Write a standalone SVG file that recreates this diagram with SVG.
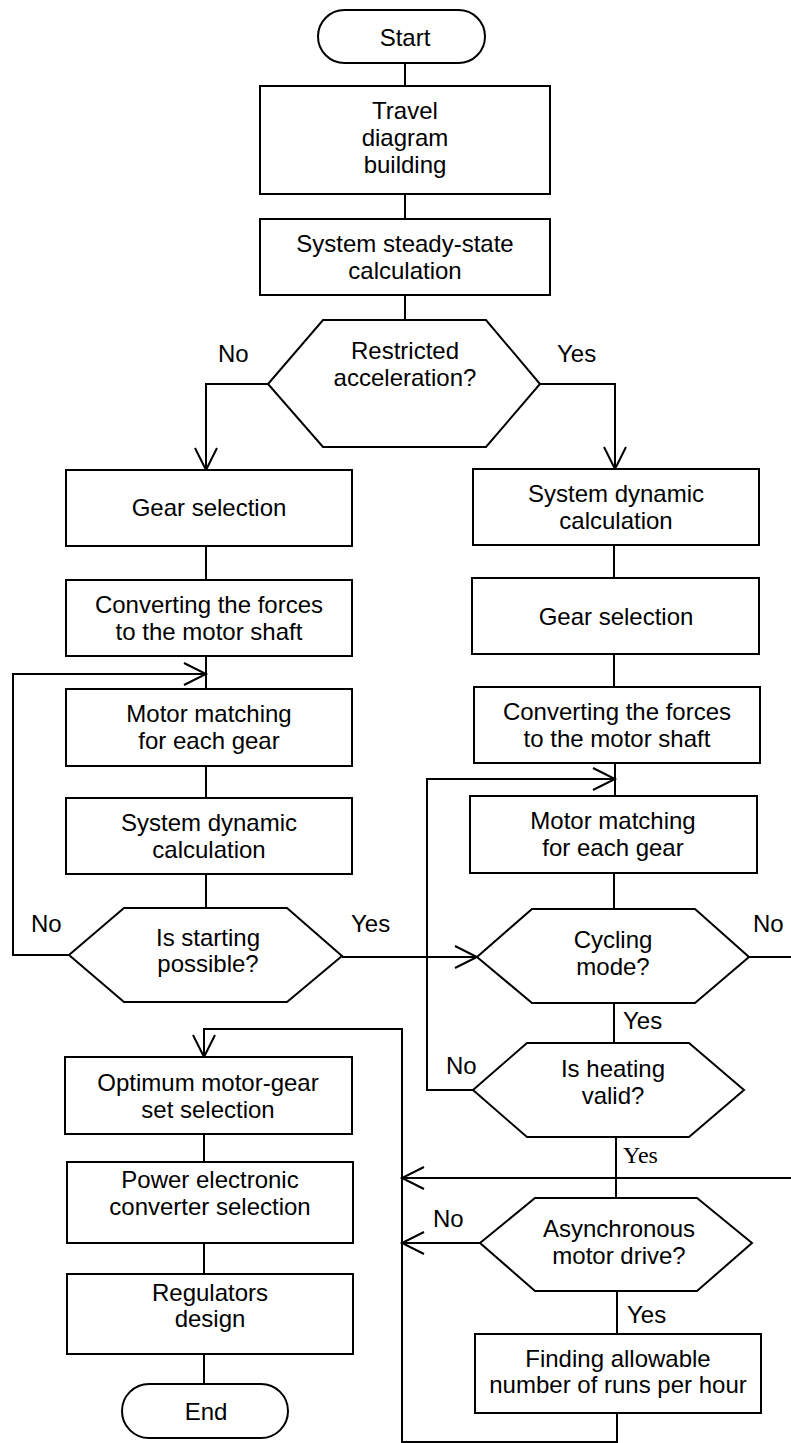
<svg xmlns="http://www.w3.org/2000/svg" width="791" height="1443" viewBox="0 0 791 1443">
<style>
.s{fill:#fff;stroke:#000;stroke-width:2}
.t{font-family:"Liberation Sans",Arial,sans-serif;font-size:24px;fill:#000;text-anchor:middle}
.l{font-family:"Liberation Sans",Arial,sans-serif;font-size:24px;fill:#000}
.ls{font-family:"Liberation Serif","Times New Roman",serif;font-size:24px;fill:#000}
.c{fill:none;stroke:#000;stroke-width:2}
</style>
<defs>
<marker id="arr" markerUnits="userSpaceOnUse" markerWidth="30" markerHeight="30" viewBox="0 0 30 30" refX="25" refY="15" orient="auto">
<path d="M3,4 L25,15 L3,26" fill="none" stroke="#000" stroke-width="2"/>
</marker>
</defs>
<rect width="791" height="1443" fill="#fff"/>
<g id="connectors">
<path class="c" d="M405,63 V86"/>
<path class="c" d="M405,194 V219"/>
<path class="c" d="M405,295 V320"/>
<path class="c" d="M268,384 H206 V470" marker-end="url(#arr)"/>
<path class="c" d="M540,384 H615 V469" marker-end="url(#arr)"/>
<path class="c" d="M206,546 V580"/>
<path class="c" d="M206,656 V689"/>
<path class="c" d="M206,766 V798"/>
<path class="c" d="M206,874 V908"/>
<path class="c" d="M69,955 H13 V674 H206" marker-end="url(#arr)"/>
<path class="c" d="M342,957 H477" marker-end="url(#arr)"/>
<path class="c" d="M614,545 V578"/>
<path class="c" d="M614,654 V687"/>
<path class="c" d="M615,763 V796"/>
<path class="c" d="M614,873 V909"/>
<path class="c" d="M749,957 H791"/>
<path class="c" d="M614,1003 V1043"/>
<path class="c" d="M473,1090 H427 V779 H615" marker-end="url(#arr)"/>
<path class="c" d="M616,1137 V1198"/>
<path class="c" d="M791,1178 H402" marker-end="url(#arr)"/>
<path class="c" d="M480,1243 H402" marker-end="url(#arr)"/>
<path class="c" d="M617,1291 V1334"/>
<path class="c" d="M617,1413 V1442 H402 V1029 H204 V1057" marker-end="url(#arr)"/>
<path class="c" d="M204,1134 V1162"/>
<path class="c" d="M204,1243 V1274"/>
<path class="c" d="M204,1354 V1384"/>
</g>
<g id="n-start">
<rect class="s" x="318" y="10" width="167" height="53" rx="26.5"/>
<text class="t" x="405" y="46">Start</text>
</g>
<g id="n-travel">
<rect class="s" x="260" y="86" width="290" height="108"/>
<text class="t" x="405" y="119">Travel</text>
<text class="t" x="405" y="146">diagram</text>
<text class="t" x="405" y="173">building</text>
</g>
<g id="n-steady">
<rect class="s" x="260" y="219" width="290" height="76"/>
<text class="t" x="405" y="252">System steady-state</text>
<text class="t" x="405" y="279">calculation</text>
</g>
<g id="n-restricted">
<polygon class="s" points="323,320 486,320 540,384 486,447 323,447 268,384"/>
<text class="t" x="405" y="359">Restricted</text>
<text class="t" x="405" y="386">acceleration?</text>
<text class="l" x="218" y="362">No</text>
<text class="l" x="557" y="362">Yes</text>
</g>
<g id="n-gear-l">
<rect class="s" x="66" y="470" width="286" height="76"/>
<text class="t" x="209" y="516">Gear selection</text>
</g>
<g id="n-conv-l">
<rect class="s" x="66" y="580" width="286" height="76"/>
<text class="t" x="209" y="613">Converting the forces</text>
<text class="t" x="209" y="640">to the motor shaft</text>
</g>
<g id="n-motor-l">
<rect class="s" x="66" y="689" width="286" height="77"/>
<text class="t" x="209" y="722">Motor matching</text>
<text class="t" x="209" y="749">for each gear</text>
</g>
<g id="n-dyn-l">
<rect class="s" x="66" y="798" width="286" height="76"/>
<text class="t" x="209" y="831">System dynamic</text>
<text class="t" x="209" y="858">calculation</text>
</g>
<g id="n-starting">
<polygon class="s" points="124,908 287,908 342,956 287,1002 124,1002 69,955"/>
<text class="t" x="208" y="946">Is starting</text>
<text class="t" x="208" y="972">possible?</text>
<text class="l" x="31" y="932">No</text>
<text class="l" x="351" y="932">Yes</text>
</g>
<g id="n-dyn-r">
<rect class="s" x="473" y="469" width="286" height="76"/>
<text class="t" x="616" y="502">System dynamic</text>
<text class="t" x="616" y="529">calculation</text>
</g>
<g id="n-gear-r">
<rect class="s" x="472" y="578" width="287" height="76"/>
<text class="t" x="616" y="625">Gear selection</text>
</g>
<g id="n-conv-r">
<rect class="s" x="474" y="687" width="286" height="76"/>
<text class="t" x="617" y="720">Converting the forces</text>
<text class="t" x="617" y="747">to the motor shaft</text>
</g>
<g id="n-motor-r">
<rect class="s" x="470" y="796" width="287" height="77"/>
<text class="t" x="613" y="829">Motor matching</text>
<text class="t" x="613" y="856">for each gear</text>
</g>
<g id="n-cycling">
<polygon class="s" points="532,909 695,909 749,957 695,1003 532,1003 477,957"/>
<text class="t" x="613" y="948">Cycling</text>
<text class="t" x="613" y="975">mode?</text>
<text class="l" x="753" y="932">No</text>
<text class="l" x="623" y="1029">Yes</text>
</g>
<g id="n-heating">
<polygon class="s" points="527,1043 689,1043 744,1090 689,1137 527,1137 473,1090"/>
<text class="t" x="613" y="1077">Is heating</text>
<text class="t" x="613" y="1104">valid?</text>
<text class="l" x="446" y="1074">No</text>
<text class="ls" x="623" y="1163">Yes</text>
</g>
<g id="n-async">
<polygon class="s" points="535,1198 697,1198 752,1243 697,1291 535,1291 480,1243"/>
<text class="t" x="619" y="1237">Asynchronous</text>
<text class="t" x="619" y="1264">motor drive?</text>
<text class="l" x="433" y="1227">No</text>
<text class="l" x="627" y="1323">Yes</text>
</g>
<g id="n-finding">
<rect class="s" x="475" y="1334" width="286" height="79"/>
<text class="t" x="618" y="1367">Finding allowable</text>
<text class="t" x="618" y="1393">number of runs per hour</text>
</g>
<g id="n-optimum">
<rect class="s" x="65" y="1057" width="287" height="77"/>
<text class="t" x="208" y="1091">Optimum motor-gear</text>
<text class="t" x="208" y="1118">set selection</text>
</g>
<g id="n-power">
<rect class="s" x="67" y="1162" width="286" height="81"/>
<text class="t" x="210" y="1188">Power electronic</text>
<text class="t" x="210" y="1215">converter selection</text>
</g>
<g id="n-regulators">
<rect class="s" x="67" y="1274" width="286" height="80"/>
<text class="t" x="210" y="1301">Regulators</text>
<text class="t" x="210" y="1327">design</text>
</g>
<g id="n-end">
<rect class="s" x="122" y="1384" width="166" height="54" rx="27"/>
<text class="t" x="206" y="1420">End</text>
</g>
</svg>
